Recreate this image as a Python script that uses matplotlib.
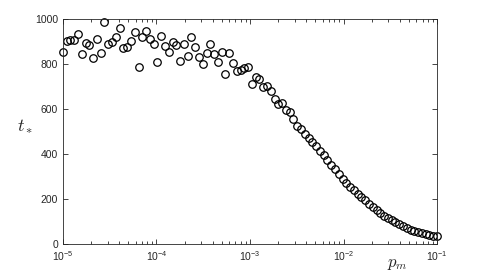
import numpy as np
import matplotlib
matplotlib.use("Agg")
import matplotlib.pyplot as plt
from matplotlib.ticker import LogLocator, FixedLocator

plt.rcParams['font.family'] = ['Liberation Sans', 'DejaVu Sans']
plt.rcParams['mathtext.fontset'] = 'cm'

# data
p_exp_start = -5
p_exp_end = -1
n_points = 100
t_star = [
    854, 904, 909, 910, 934, 845, 897, 886, 827, 914,
    852, 990, 892, 900, 921, 962, 872, 875, 903, 946,
    788, 921, 950, 913, 891, 809, 928, 882, 855, 898,
    886, 816, 891, 839, 921, 879, 834, 803, 849, 891,
    845, 809, 857, 756, 849, 805, 769, 776, 783, 787,
    713, 742, 735, 697, 704, 682, 646, 625, 630, 596,
    586, 555, 527, 512, 492, 473, 455, 435, 415, 397,
    375, 354, 334, 312, 290, 270, 253, 239, 224, 208,
    194, 178, 164, 150, 137, 127, 117, 107, 97, 88,
    79, 71, 64, 58, 53, 48, 44, 40, 37, 35,
]
p_m = np.logspace(p_exp_start, p_exp_end, n_points)
y_ticks = [0, 200, 400, 600, 800, 1000]

fig = plt.figure(figsize=(4.84, 2.77), dpi=100)
ax = fig.add_axes([0.130, 0.119, 0.773, 0.811])
ax.plot(p_m, t_star, linestyle='none', marker='o', markersize=5.4,
        markerfacecolor='none', markeredgecolor='black', markeredgewidth=0.9,
        clip_on=False)
ax.set_xscale('log')
ax.set_xlim(1e-5, 1e-1)
ax.set_ylim(0, 1000)
ax.yaxis.set_major_locator(FixedLocator(y_ticks))
ax.xaxis.set_major_locator(LogLocator(base=10, numticks=10))
ax.xaxis.set_minor_locator(LogLocator(base=10, subs=np.arange(2, 10), numticks=10))

frame_col = '#262626'
for s in ax.spines.values():
    s.set_color(frame_col)
    s.set_linewidth(0.6)
ax.tick_params(which='both', direction='in', top=True, right=True,
               colors=frame_col, labelcolor=frame_col, width=0.6)
ax.tick_params(which='major', length=3.5, labelsize=7.5)
ax.tick_params(which='minor', length=2)
ax.tick_params(axis='x', pad=4)

fig.text(0.052, 0.545, r'$t_*$', fontsize=13, ha='center', va='center', color='#262626')
fig.text(0.822, 0.045, r'$p_m$', fontsize=12, ha='center', va='center', color='#262626')

fig.savefig('out.png', dpi=100, facecolor='white')
